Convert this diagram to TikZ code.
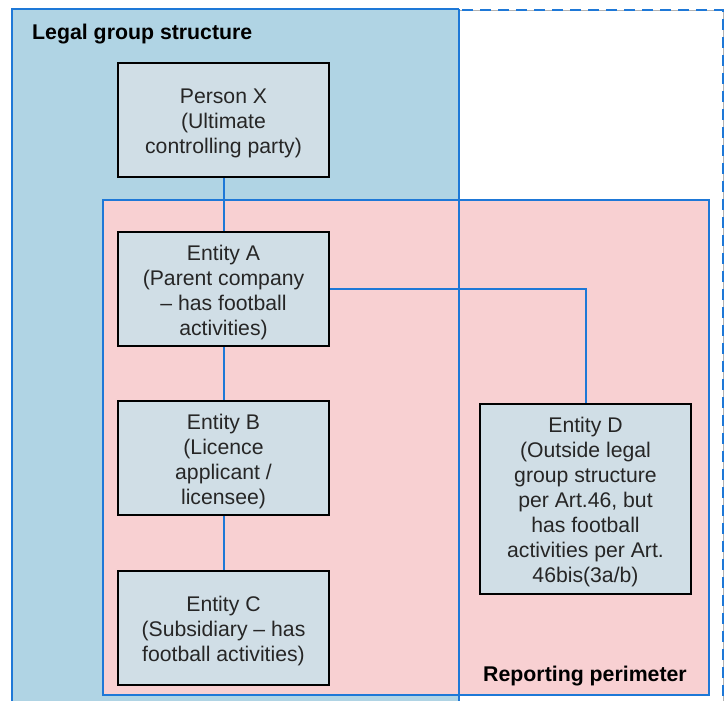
\documentclass[tikz,border=0pt]{standalone}
\usepackage{fontspec}
\setmainfont{Liberation Sans}
\definecolor{legalblue}{RGB}{176,212,228}
\definecolor{perimpink}{RGB}{248,208,210}
\definecolor{boxfill}{RGB}{208,222,230}
\definecolor{lineblue}{RGB}{30,120,215}
\definecolor{txt}{RGB}{38,38,38}
\newcommand{\tstrut}{\rule{0pt}{21.5pt}}
\tikzset{
  entity/.style={draw=black, line width=2pt, fill=boxfill, minimum width=211pt,
    minimum height=114pt, align=center, font=\fontsize{21.2}{25}\selectfont,
    text=txt, inner sep=0pt},
  link/.style={draw=lineblue, line width=2pt},
  regionlabel/.style={font=\fontsize{21.3}{25}\selectfont\bfseries, text=black, inner sep=0pt}
}
\begin{document}
\begin{tikzpicture}[x=1pt,y=-1pt]
\useasboundingbox (0,0) rectangle (728,701);
\clip (0,0) rectangle (728,701);
% legal group structure region
\fill[legalblue] (12,9) rectangle (459,720);
\draw[lineblue, line width=2.5pt] (12,720) -- (12,9) -- (459,9);
% dashed extension
\draw[gray!60, line width=0.6pt] (459,10) -- (723,10) -- (723,720);
\draw[lineblue, line width=2.5pt, dash pattern=on 11pt off 7pt] (462,10) -- (723,10) -- (723,720);
% reporting perimeter
\draw[lineblue, line width=2pt, fill=perimpink] (103,200) rectangle (709,695);
\draw[lineblue, line width=2.5pt] (459,9) -- (459,720);
% labels
\node[regionlabel, anchor=west] (lgs) at (32,34) {Legal group structure};
\node[regionlabel, anchor=east] (rp) at (687,676) {Reporting perimeter};
% entities
\node[entity] (px) at (223.5,120) {\tstrut Person X\\(Ultimate\\controlling party)};
\node[entity] (ea) at (223.5,289) {\tstrut Entity A\\(Parent company\\– has football\\activities)};
\node[entity] (eb) at (223.5,458) {\tstrut Entity B\\(Licence\\applicant /\\licensee)};
\node[entity] (ec) at (223.5,628) {\tstrut Entity C\\(Subsidiary – has\\football activities)};
\node[entity, minimum height=190pt] (ed) at (585.5,498.5) {\tstrut Entity D\\(Outside legal\\group structure\\per Art.46, but\\has football\\activities per Art.\\46bis(3a/b)};
% connectors
\draw[link] (px.south) -- (ea.north);
\draw[link] (ea.south) -- (eb.north);
\draw[link] (eb.south) -- (ec.north);
\draw[link] (ea.east) -| (ed.north);
\end{tikzpicture}
\end{document}
